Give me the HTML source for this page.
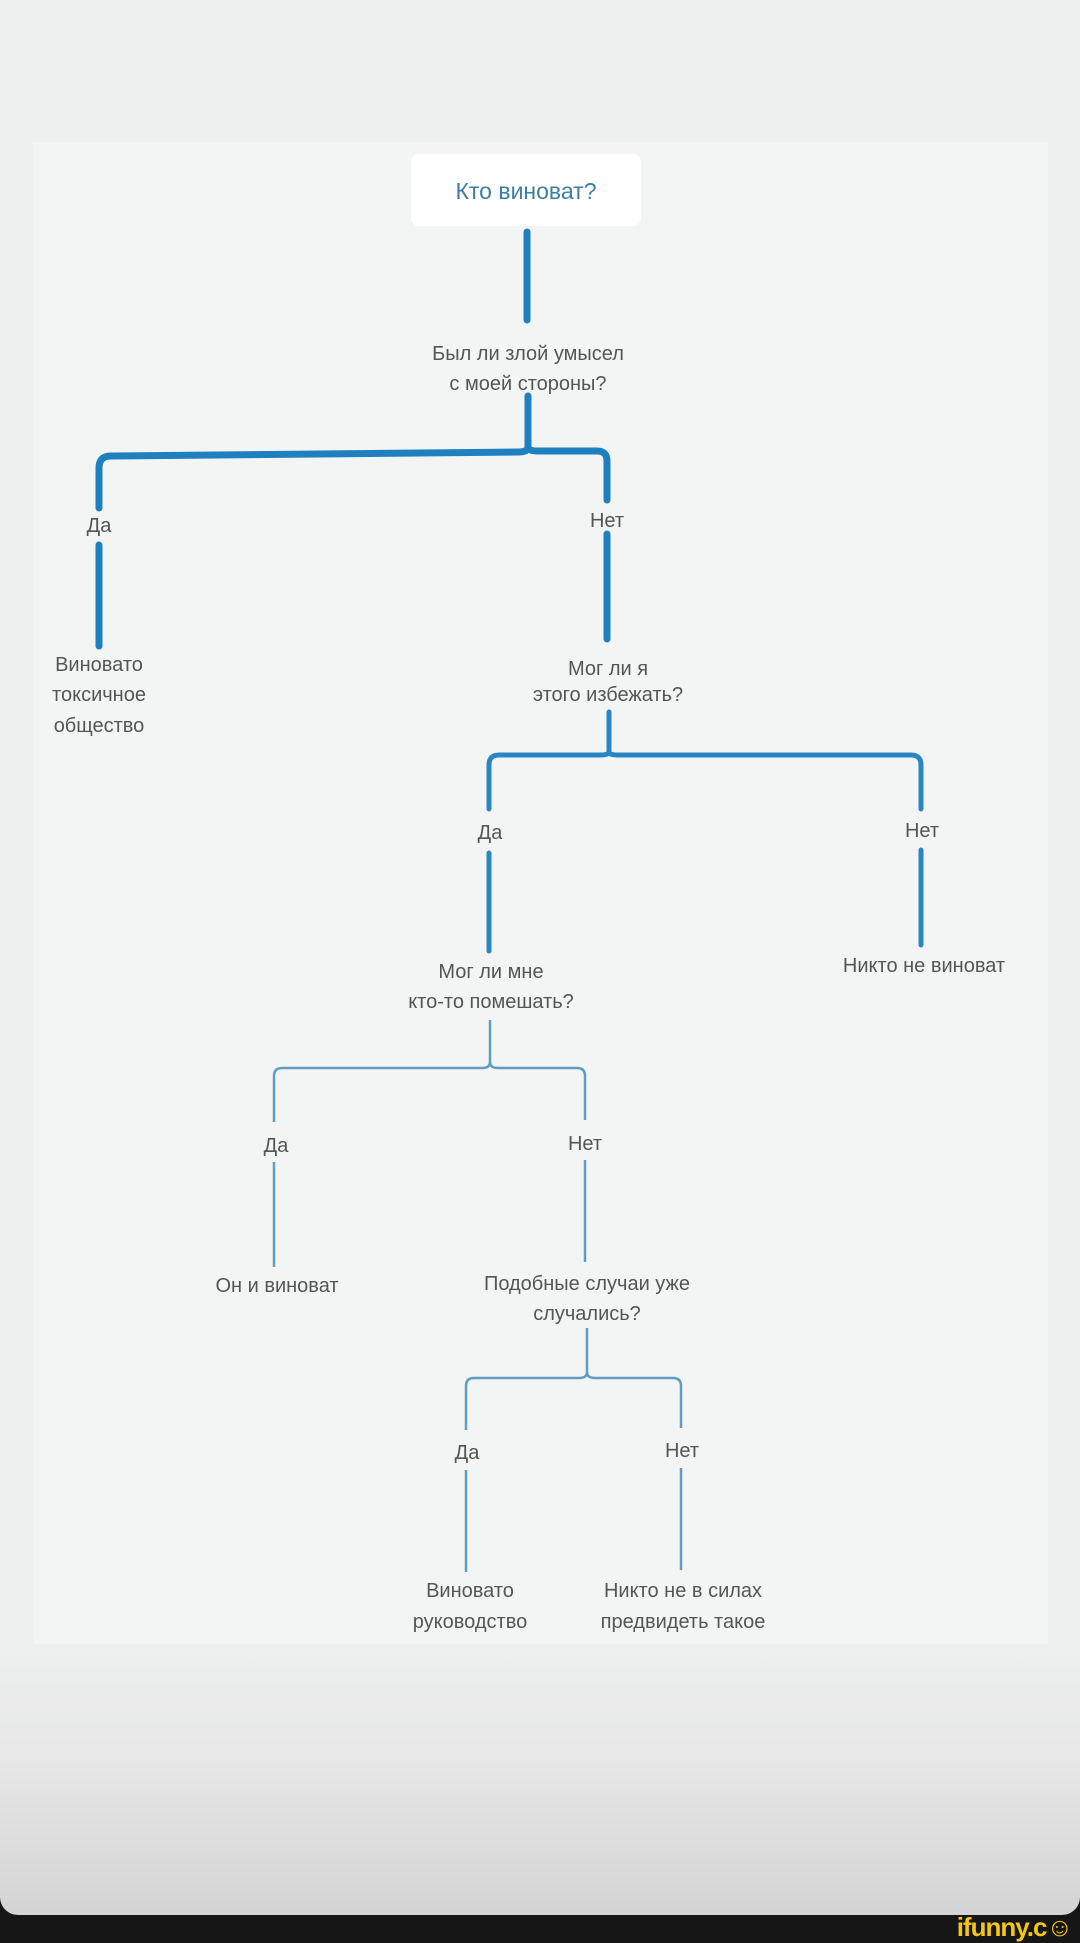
<!DOCTYPE html>
<html><head><meta charset="utf-8"><style>
html,body{margin:0;padding:0;width:1080px;height:1938px;overflow:hidden;background:#161616;}
.bg{position:absolute;left:0;top:0;width:1080px;height:1915px;border-radius:0 0 18px 18px;
background:linear-gradient(#eef0ef 0px,#eef0ef 1650px,#e6e7e6 1760px,#d3d4d3 1915px);}
.panel{position:absolute;left:33px;top:142px;width:1015px;height:1502px;background:#f3f5f4;}
svg{position:absolute;left:0;top:0;}
text{font-family:"Liberation Sans",sans-serif;fill:#555;font-size:20px;text-anchor:middle;}
.logo{position:absolute;right:8px;top:1912px;font:bold 26px "Liberation Sans",sans-serif;color:#f5c518;letter-spacing:-1px;}
</style></head><body>
<div class="bg"></div><div class="panel"></div>
<svg width="1080" height="1938">
<rect x="411" y="154" width="230" height="72" rx="8" fill="#ffffff"/>
<text x="526" y="199" style="fill:#3d7fa3;font-size:23px">Кто виноват?</text>
<g stroke="#1f80bf" stroke-width="7" fill="none" stroke-linecap="round">
<line x1="527" y1="232" x2="527" y2="320"/>
<path d="M528 396 V447 M528 447 Q528 452 518 452 L111 456 Q99 456 99 468 V508 M99 545 V646"/>
<path d="M528 447 Q528 451 538 451 L597 451 Q607 451 607 461 V500 M607 534 V639"/>
</g>
<g stroke="#2a86c2" stroke-width="5" fill="none" stroke-linecap="round">
<path d="M609 712 V752 M609 752 Q609 755 600 755 L499 755 Q489 755 489 765 V809 M489 853 V951"/>
<path d="M609 752 Q609 755 618 755 L911 755 Q921 755 921 765 V809 M921 850 V945"/>
</g>
<g stroke="#5f9ec4" stroke-width="2.5" fill="none">
<path d="M490 1020 V1062 Q490 1068 482 1068 L282 1068 Q274 1068 274 1076 V1122 M274 1162 V1267"/>
<path d="M490 1062 Q490 1068 498 1068 L577 1068 Q585 1068 585 1076 V1120 M585 1160 V1262"/>
<path d="M587 1328 V1372 Q587 1378 579 1378 L474 1378 Q466 1378 466 1386 V1430 M466 1470 V1572"/>
<path d="M587 1372 Q587 1378 595 1378 L673 1378 Q681 1378 681 1386 V1428 M681 1468 V1570"/>
</g>
<text x="528" y="360">Был ли злой умысел</text>
<text x="528" y="390">с моей стороны?</text>
<text x="99" y="532">Да</text>
<text x="607" y="527">Нет</text>
<text x="99" y="671">Виновато</text>
<text x="99" y="701">токсичное</text>
<text x="99" y="732">общество</text>
<text x="608" y="675">Мог ли я</text>
<text x="608" y="701">этого избежать?</text>
<text x="490" y="839">Да</text>
<text x="922" y="837">Нет</text>
<text x="491" y="978">Мог ли мне</text>
<text x="491" y="1008">кто-то помешать?</text>
<text x="924" y="972">Никто не виноват</text>
<text x="276" y="1152">Да</text>
<text x="585" y="1150">Нет</text>
<text x="277" y="1292">Он и виноват</text>
<text x="587" y="1290">Подобные случаи уже</text>
<text x="587" y="1320">случались?</text>
<text x="467" y="1459">Да</text>
<text x="682" y="1457">Нет</text>
<text x="470" y="1597">Виновато</text>
<text x="470" y="1628">руководство</text>
<text x="683" y="1597">Никто не в силах</text>
<text x="683" y="1628">предвидеть такое</text>
</svg>
<div class="logo">ifunny.c☺</div>
</body></html>
